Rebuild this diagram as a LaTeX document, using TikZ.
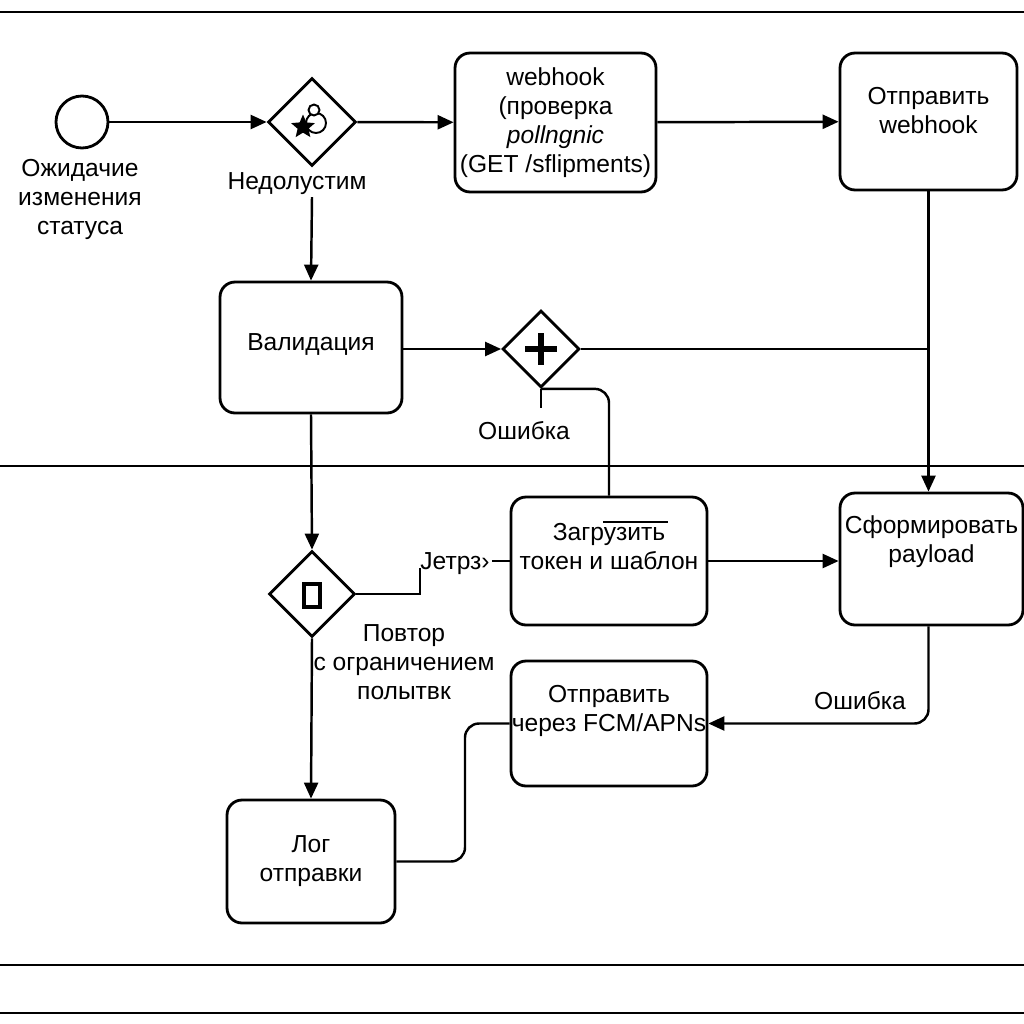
\documentclass[tikz,border=0pt]{standalone}
\usepackage{fontspec}
\setmainfont{Liberation Sans}
\usetikzlibrary{shapes.geometric,arrows.meta}

\tikzset{
    task/.style={draw, line width=1.6pt, rounded corners=0.3cm, align=center, inner sep=0pt},
    raised/.style={text depth=#1},
    gate/.style={draw, diamond, aspect=1, line width=1.6pt, inner sep=0pt, minimum size=1.76cm},
    flow/.style={line width=1.4pt},
    lane/.style={line width=1.5pt},
    lbl/.style={align=center, inner sep=1pt},
}

\begin{document}
\begin{tikzpicture}[x=0.02cm, y=-0.02cm, >={Triangle[length=0.32cm,width=0.28cm]},
    font=\fontsize{14}{16.5}\selectfont]
    \useasboundingbox (0,0) rectangle (1024,1024);

    % lanes
    \draw[lane] (0,12) -- (1024,12);
    \draw[lane] (0,466) -- (1024,466);
    \draw[lane] (0,965) -- (1024,965);
    \draw[lane] (0,1013) -- (1024,1013);

    % upper lane
    \node[circle, draw, line width=1.6pt, minimum size=1.04cm, inner sep=0pt] (start) at (82,122) {};
    \node[lbl] (lblwait) at (80,199) {Ожидачие\\изменения\\статуса};

    \node[gate] (gwinv) at (312,122) {};
    \draw[line width=1.1pt] (316,123) circle (10);
    \draw[line width=1.1pt, fill=white] (314,110) circle (5.5);
    \node[star, star points=5, star point ratio=2.2, fill, inner sep=0pt, minimum size=0.5cm] (gwstar) at (303,127) {};
    \node[lbl] (lblinv) at (297,184) {Недолустим};

    \node[task, minimum width=4.02cm, minimum height=2.78cm] (hook) at (555.5,122.5)
        {webhook\\(проверка\\\textit{pollngnic}\\(GET /sflipments)};
    \node[task, raised=0.45cm, minimum width=3.54cm, minimum height=2.74cm] (sendhook) at (928.5,121.5)
        {Отправить\\webhook};

    \node[task, raised=0.2cm, minimum width=3.64cm, minimum height=2.62cm] (valid) at (311,347.5) {Валидация};

    \node[gate, minimum size=1.54cm] (par) at (541,349) {};
    \draw[line width=3.4pt] (525,349) -- (557,349) (541,333) -- (541,365);
    \node[lbl] (lblerr1) at (524,431) {Ошибка};
    \coordinate (errstub) at (541,408);

    % lower lane
    \node[gate, minimum size=1.72cm] (gwretry) at (312,594) {};
    \draw[line width=1.9pt] (304,584) rectangle (320,607);
    \node[lbl] (lblretry) at (455,564) {Jетрз›};
    \coordinate (retryup) at (420,568);
    \node[lbl] (lblrepeat) at (404,662) {Повтор\\с ограничением\\полытвк};

    \node[task, raised=0.6cm, minimum width=3.92cm, minimum height=2.56cm] (load) at (609,561)
        {Загрузить\\токен и шаблон};
    \draw[line width=0.9pt] (603,522) -- (668,522);
    \node[task, raised=0.8cm, minimum width=3.66cm, minimum height=2.64cm] (form) at (931.5,559)
        {Сформировать\\payload};
    \node[task, raised=0.6cm, minimum width=3.92cm, minimum height=2.5cm] (fcm) at (609,723.5)
        {Отправить\\через FCM/APNs};
    \node[lbl] (lblerr2) at (860,701) {Ошибка};
    \coordinate (fcmturn) at (465,790);

    \node[task, minimum width=3.36cm, minimum height=2.46cm] (log) at (311,861.5) {Лог\\отправки};

    % flows
    \draw[flow, ->] (start) -- (gwinv);
    \draw[flow, ->] (gwinv) -- (hook);
    \draw[flow, ->] (hook) -- (sendhook);
    \draw[flow, ->] (sendhook.south) -- (sendhook.south |- form.north);
    \draw[flow, ->] (lblinv.south -| gwinv) -- (valid.north);
    \draw[flow, ->] (valid.east |- par) -- (par.west);
    \draw[flow] (par.east) -- (par.east -| sendhook.south);
    \draw[flow] (par.south) -- (errstub);
    \draw[flow, rounded corners=8] (par.south) -| (load.north);
    \draw[flow, ->] (valid.south) -- (gwretry.north);
    \draw[flow] (gwretry.east) -| (retryup);
    \draw[flow] (lblretry.east |- load.west) -- (load.west);
    \draw[flow, ->] (load.east) -- (load.east -| form.west);
    \draw[flow, ->, rounded corners=8] (form.south -| sendhook.south) |- (fcm.east);
    \draw[flow, rounded corners=8] (fcm.west) -| (fcmturn) |- (log.east);
    \draw[flow, ->] (gwretry.south) -- (log.north);
\end{tikzpicture}
\end{document}
